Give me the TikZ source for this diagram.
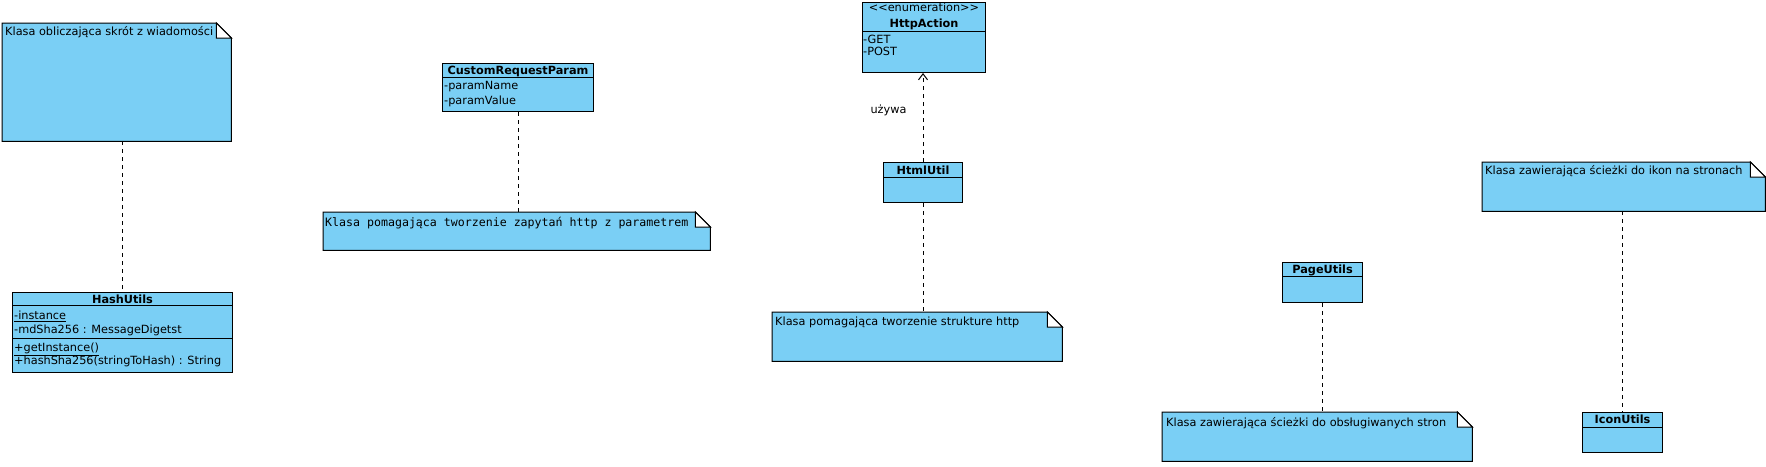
\documentclass[tikz,border=0pt]{standalone}
\usepackage{fontspec}
\setmainfont{DejaVu Sans}
\newfontfamily\notemono{DejaVu Sans Mono}
\usetikzlibrary{positioning,calc,backgrounds,arrows.meta}
\definecolor{umlblue}{RGB}{122,207,245}

\begin{document}
\begin{tikzpicture}[x=1pt, y=-1pt,
    every node/.style={font=\fontsize{11.3}{13}\selectfont, inner sep=0pt},
    umlclass/.style={draw, fill=umlblue, line width=1pt, anchor=north west},
    classname/.style={anchor=base, font=\fontsize{11.3}{13}\selectfont\bfseries},
    member/.style={anchor=base west},
    notebox/.style={anchor=north west},
    notetext/.style={anchor=base west},
    link/.style={line width=1pt, dash pattern=on 4pt off 4pt}]
    \useasboundingbox (0,0) rectangle (1766,466);

    % classes
    \node[umlclass, minimum width=220pt, minimum height=80pt] (hashUtils) at (12,292) {};
    \node[classname] (hashTitle) at ([yshift=-11.3pt]hashUtils.north) {HashUtils};
    \draw[line width=1pt] ([yshift=-13pt]hashUtils.north west) -- ([yshift=-13pt]hashUtils.north east);
    \node[member] (hashAttrA) at ([xshift=2pt,yshift=-27.3pt]hashUtils.north west) {\underline{-instance}};
    \node[member] (hashAttrB) at ([xshift=2pt,yshift=-41pt]hashUtils.north west) {-mdSha256 : MessageDigetst};
    \draw[line width=1pt] ([yshift=-46pt]hashUtils.north west) -- ([yshift=-46pt]hashUtils.north east);
    \node[member] (hashOpA) at ([xshift=2pt,yshift=-59pt]hashUtils.north west) {\underline{+getInstance()}};
    \node[member] (hashOpB) at ([xshift=2pt,yshift=-72.3pt]hashUtils.north west) {+hashSha256(stringToHash) : String};

    \node[umlclass, minimum width=151pt, minimum height=48pt] (paramClass) at (442,63) {};
    \node[classname] (paramTitle) at ([yshift=-11pt]paramClass.north) {CustomRequestParam};
    \draw[line width=1pt] ([yshift=-14pt]paramClass.north west) -- ([yshift=-14pt]paramClass.north east);
    \node[member] (paramAttrA) at ([xshift=2pt,yshift=-26pt]paramClass.north west) {-paramName};
    \node[member] (paramAttrB) at ([xshift=2pt,yshift=-41pt]paramClass.north west) {-paramValue};

    \node[umlclass, minimum width=123pt, minimum height=70pt] (httpAction) at (862,2) {};
    \node[anchor=base] (httpStereo) at ([yshift=-9.5pt]httpAction.north) {<{}<enumeration>{}>};
    \node[classname] (httpTitle) at ([yshift=-25.7pt]httpAction.north) {HttpAction};
    \draw[line width=1pt] ([yshift=-29pt]httpAction.north west) -- ([yshift=-29pt]httpAction.north east);
    \node[member] (httpGet) at ([xshift=1pt,yshift=-41.3pt]httpAction.north west) {-GET};
    \node[member] (httpPost) at ([xshift=1pt,yshift=-53pt]httpAction.north west) {-POST};

    \node[umlclass, minimum width=79pt, minimum height=40pt] (htmlUtil) at (883,162) {};
    \node[classname] (htmlTitle) at ([yshift=-12pt]htmlUtil.north) {HtmlUtil};
    \draw[line width=1pt] ([yshift=-15pt]htmlUtil.north west) -- ([yshift=-15pt]htmlUtil.north east);

    \node[umlclass, minimum width=80pt, minimum height=40pt] (pageUtils) at (1282,262) {};
    \node[classname] (pageTitle) at ([yshift=-11.3pt]pageUtils.north) {PageUtils};
    \draw[line width=1pt] ([yshift=-14pt]pageUtils.north west) -- ([yshift=-14pt]pageUtils.north east);

    \node[umlclass, minimum width=80pt, minimum height=40pt] (iconUtils) at (1582,412) {};
    \node[classname] (iconTitle) at ([yshift=-11.3pt]iconUtils.north) {IconUtils};
    \draw[line width=1pt] ([yshift=-15pt]iconUtils.north west) -- ([yshift=-15pt]iconUtils.north east);

    % notes
    \node[notebox, minimum width=229pt, minimum height=118pt] (hashNote) at (2,23) {};
    \node[notetext] (hashNoteText) at ([xshift=3pt,yshift=-12pt]hashNote.north west) {Klasa obliczająca skrót z wiadomości};
    \node[notebox, minimum width=387pt, minimum height=38pt] (paramNote) at (323,212) {};
    \node[notetext, font=\fontsize{11.6}{13}\notemono] (paramNoteText) at ([xshift=2pt,yshift=-14.5pt]paramNote.north west) {Klasa pomagająca tworzenie zapytań http z parametrem};
    \node[notebox, minimum width=290pt, minimum height=49pt] (htmlNote) at (772,312) {};
    \node[notetext] (htmlNoteText) at ([xshift=3pt,yshift=-13.7pt]htmlNote.north west) {Klasa pomagająca tworzenie strukture http};
    \node[notebox, minimum width=310pt, minimum height=49pt] (pageNote) at (1162,412) {};
    \node[notetext] (pageNoteText) at ([xshift=4pt,yshift=-14pt]pageNote.north west) {Klasa zawierająca ścieżki do obsługiwanych stron};
    \node[notebox, minimum width=283pt, minimum height=49pt] (iconNote) at (1482,162) {};
    \node[notetext] (iconNoteText) at ([xshift=3pt,yshift=-12pt]iconNote.north west) {Klasa zawierająca ścieżki do ikon na stronach};

    \begin{scope}[on background layer]
        \foreach \n in {hashNote,paramNote,htmlNote,pageNote,iconNote} {
            \filldraw[fill=umlblue, line width=1pt] (\n.north west) -- ([xshift=-15pt]\n.north east)
                -- ([yshift=-15pt]\n.north east) -- (\n.south east) -- (\n.south west) -- cycle;
            \filldraw[fill=white, line width=1pt] ([xshift=-15pt]\n.north east)
                -- ([xshift=-15pt,yshift=-15pt]\n.north east) -- ([yshift=-15pt]\n.north east) -- cycle;
        }
    \end{scope}

    % connectors
    \draw[link] (hashNote.south -| hashUtils.north) -- (hashUtils.north);
    \draw[link] (paramClass.south) -- (paramClass.south |- paramNote.north);
    \draw[link, -{Straight Barb[length=6pt,width=9pt]}] (htmlUtil.north)
        -- node[pos=0.58, left=16pt] (usesLabel) {używa} (httpAction.south -| htmlUtil.north);
    \draw[link] (htmlUtil.south) -- (htmlUtil.south |- htmlNote.north);
    \draw[link] (pageUtils.south) -- (pageUtils.south |- pageNote.north);
    \draw[link] (iconNote.south -| iconUtils.north) -- (iconUtils.north);
\end{tikzpicture}
\end{document}
